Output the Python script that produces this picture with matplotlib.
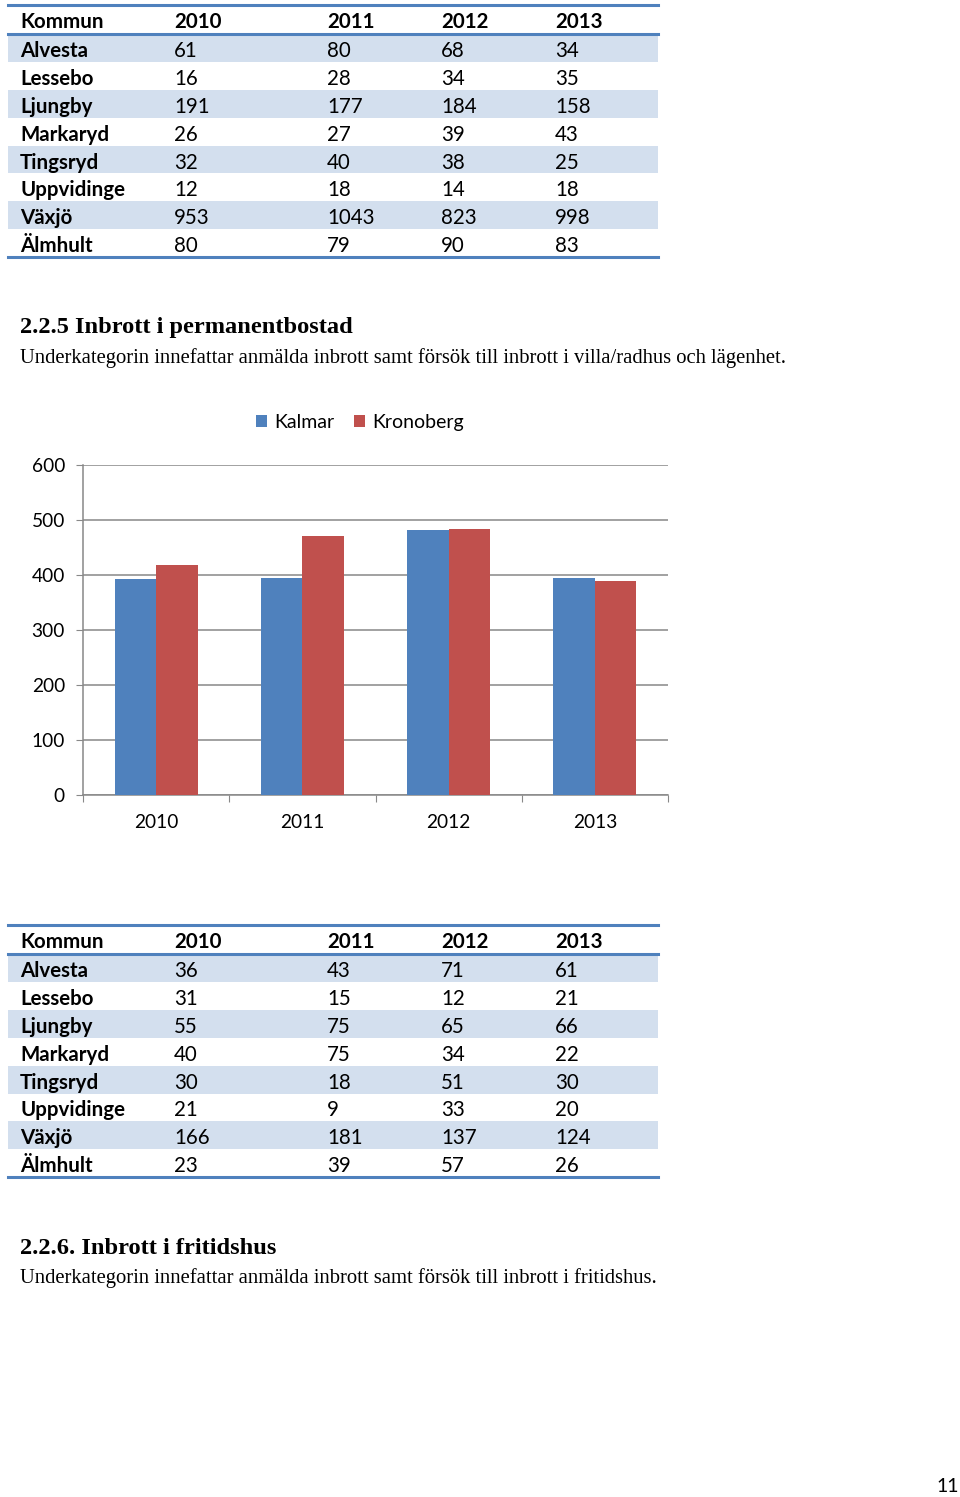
import numpy as np
import matplotlib
matplotlib.use("Agg")
import matplotlib.pyplot as plt
from matplotlib.patches import Rectangle

# Tabell-data (anmälda brott per kommun)
kommuner = ["Alvesta", "Lessebo", "Ljungby", "Markaryd", "Tingsryd", "Uppvidinge", "Växjö", "Älmhult"]
years = ["2010", "2011", "2012", "2013"]
tabell_1 = [
    [61, 80, 68, 34],
    [16, 28, 34, 35],
    [191, 177, 184, 158],
    [26, 27, 39, 43],
    [32, 40, 38, 25],
    [12, 18, 14, 18],
    [953, 1043, 823, 998],
    [80, 79, 90, 83],
]
tabell_2 = [
    [36, 43, 71, 61],
    [31, 15, 12, 21],
    [55, 75, 65, 66],
    [40, 75, 34, 22],
    [30, 18, 51, 30],
    [21, 9, 33, 20],
    [166, 181, 137, 124],
    [23, 39, 57, 26],
]

# Diagram: inbrott i permanentbostad
kalmar = [393, 394, 482, 394]
kronoberg = [419, 471, 484, 389]

W, H = 960, 1497
fig = plt.figure(figsize=(W / 100, H / 100), dpi=100)
fig.patch.set_facecolor("white")

# bakgrundsaxel i pixelkoordinater for tabeller och text
bg = fig.add_axes([0, 0, 1, 1])
bg.set_xlim(0, W)
bg.set_ylim(H, 0)
bg.axis("off")

sans = "Lato"
serif = "Liberation Serif"
blue_line = "#4F81BD"
band = "#D3DFEE"
col_x = [20, 174, 327, 441, 555]
fs_tab = 14.8


def draw_table(top, rows):
    row_h = 27.9
    head_bottom = top + 29
    # banding
    for i in range(len(rows)):
        if i % 2 == 0:
            bg.add_patch(Rectangle((8, head_bottom + i * row_h), 650, row_h,
                                   facecolor=band, edgecolor="none", zorder=1))
    bottom = head_bottom + len(rows) * row_h
    bg.plot([8, 658], [top, top], color=blue_line, lw=2.2, zorder=2)
    bg.plot([8, 658], [head_bottom, head_bottom], color=blue_line, lw=2.2, zorder=2)
    bg.plot([8, 658], [bottom, bottom], color=blue_line, lw=2.2, zorder=2)
    yc = top + 16.5
    bg.text(col_x[0], yc, "Kommun", fontsize=fs_tab, fontweight="bold", family=sans,
            va="center", ha="left", zorder=3)
    for j, yr in enumerate(years):
        bg.text(col_x[j + 1], yc, yr, fontsize=fs_tab, fontweight="bold", family=sans,
                va="center", ha="left", zorder=3)
    for i, (namn, vals) in enumerate(zip(kommuner, rows)):
        y = head_bottom + i * row_h + row_h / 2 + 3
        bg.text(col_x[0], y, namn, fontsize=fs_tab, fontweight="bold", family=sans,
                va="center", ha="left", zorder=3)
        for j, v in enumerate(vals):
            bg.text(col_x[j + 1], y, str(v), fontsize=fs_tab, family=sans,
                    va="center", ha="left", zorder=3)


draw_table(5, tabell_1)
draw_table(925, tabell_2)

bg.text(20, 328, "2.2.5 Inbrott i permanentbostad", fontsize=17.6, fontweight="bold",
        family=serif, va="center", ha="left")
bg.text(20, 358, "Underkategorin innefattar anmälda inbrott samt försök till inbrott i villa/radhus och lägenhet.",
        fontsize=14.9, family=serif, va="center", ha="left")
bg.text(20, 1249, "2.2.6. Inbrott i fritidshus", fontsize=17.6, fontweight="bold",
        family=serif, va="center", ha="left")
bg.text(20, 1278, "Underkategorin innefattar anmälda inbrott samt försök till inbrott i fritidshus.",
        fontsize=14.9, family=serif, va="center", ha="left")
bg.text(948, 1487, "11", fontsize=14, family=sans, va="center", ha="center")

# stapeldiagram
ax_left, ax_right, ax_top, ax_bot = 83, 668, 465, 795
ax = fig.add_axes([ax_left / W, 1 - ax_bot / H, (ax_right - ax_left) / W, (ax_bot - ax_top) / H])
ax.set_facecolor("none")
x = np.arange(len(years))
w = 0.284
ax.bar(x - w / 2, kalmar, w, color="#4F81BD", label="Kalmar", zorder=3)
ax.bar(x + w / 2, kronoberg, w, color="#C0504D", label="Kronoberg", zorder=3)
ax.set_xlim(-0.5, len(years) - 0.5)
ax.set_ylim(0, 600)
ax.set_yticks(np.arange(0, 601, 100))
ax.yaxis.grid(True, color="#888888", lw=1.1, zorder=0)
ax.set_xticks(np.arange(-0.5, len(years), 1))
ax.set_xticklabels([])
ax.set_xticks(x, minor=True)
ax.set_xticklabels(years, minor=True, fontsize=13.8, family=sans)
ax.tick_params(axis="x", which="minor", length=0, pad=14)
ax.tick_params(axis="x", which="major", length=5, color="#888888")
ax.tick_params(axis="y", length=5, color="#888888", labelsize=13.8, pad=8)
for lab in ax.get_yticklabels():
    lab.set_family(sans)
for s in ["top", "right"]:
    ax.spines[s].set_visible(False)
for s in ["left", "bottom"]:
    ax.spines[s].set_color("#888888")
    ax.spines[s].set_linewidth(1.1)

leg = ax.legend(loc="lower center", bbox_to_anchor=(0.473, 1.05), ncol=2, frameon=False,
                prop={"family": sans, "size": 14}, handlelength=0.6, handleheight=0.6,
                handletextpad=0.35, columnspacing=1.0)

fig.savefig("out.png", dpi=100)
